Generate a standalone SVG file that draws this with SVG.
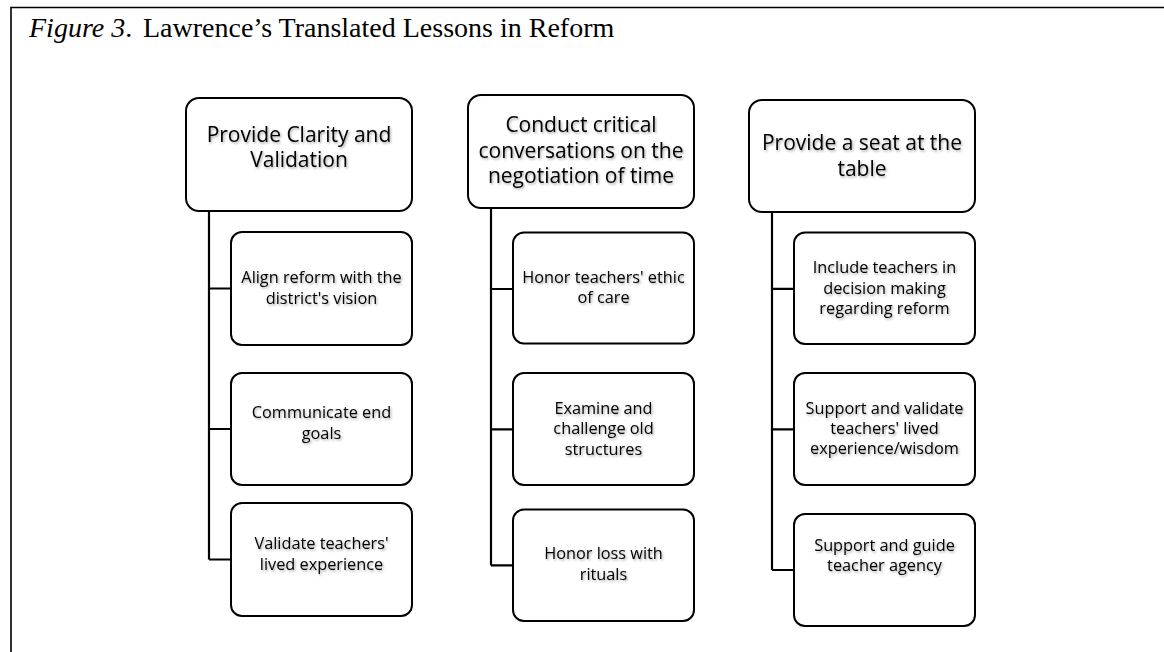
<svg xmlns="http://www.w3.org/2000/svg" width="1164" height="652" viewBox="0 0 1164 652">
<defs>
<filter id="sh" x="-10%" y="-30%" width="120%" height="160%">
<feDropShadow dx="1.2" dy="1.5" stdDeviation="0.9" flood-color="#000" flood-opacity="0.35"/>
</filter>
<style>
.frame{fill:none;stroke:#000;stroke-width:1.6}
.title{font-family:"Liberation Serif","Times New Roman",serif;font-size:28px;fill:#000}
.box{fill:#fff;stroke:#000;stroke-width:2}
.conn{fill:none;stroke:#000;stroke-width:2.2}
.h{font-family:"Open Sans","Noto Sans",sans-serif;font-size:21px;fill:#000;text-anchor:middle;filter:url(#sh)}
.c{font-family:"Open Sans","Noto Sans",sans-serif;font-size:16.3px;fill:#000;text-anchor:middle;filter:url(#sh)}
</style>
</defs>
<rect width="1164" height="652" fill="#fff"/>
<path class="frame" d="M11,660 V7.5 H1170"/>
<text class="title" y="37"><tspan x="29" font-style="italic">Figure 3</tspan><tspan>.</tspan><tspan x="143">Lawrence’s Translated Lessons in Reform</tspan></text>

<g id="connectors">
<path class="conn" d="M209,211 V559.5 M209,288.5 H231 M209,429 H231 M209,559.5 H231"/>
<path class="conn" d="M491,208 V565.4 M491,289 H513 M491,429.3 H513 M491,565.4 H513"/>
<path class="conn" d="M772,212 V570 M772,288.8 H794 M772,429.3 H794 M772,570 H794"/>
</g>

<g id="h1"><rect class="box" x="186" y="98" width="226" height="113" rx="13"/>
<text class="h"><tspan x="299" y="141.5">Provide Clarity and</tspan><tspan x="299" y="167">Validation</tspan></text></g>
<g id="h2"><rect class="box" x="468" y="95" width="226" height="113" rx="13"/>
<text class="h"><tspan x="581" y="132">Conduct critical</tspan><tspan x="581" y="157.5">conversations on the</tspan><tspan x="581" y="183">negotiation of time</tspan></text></g>
<g id="h3"><rect class="box" x="749" y="100" width="226" height="112" rx="13"/>
<text class="h"><tspan x="862" y="150">Provide a seat at the</tspan><tspan x="862" y="175.6">table</tspan></text></g>

<g id="c11"><rect class="box" x="231" y="232" width="181" height="113" rx="11"/>
<text class="c"><tspan x="321.5" y="283">Align reform with the</tspan><tspan x="321.5" y="304">district's vision</tspan></text></g>
<g id="c12"><rect class="box" x="231" y="373" width="181" height="112" rx="11"/>
<text class="c"><tspan x="321.5" y="418.3">Communicate end</tspan><tspan x="321.5" y="439.3">goals</tspan></text></g>
<g id="c13"><rect class="box" x="231" y="503" width="181" height="113" rx="11"/>
<text class="c"><tspan x="321.5" y="549">Validate teachers'</tspan><tspan x="321.5" y="570">lived experience</tspan></text></g>

<g id="c21"><rect class="box" x="513" y="232.5" width="181" height="111" rx="11"/>
<text class="c"><tspan x="603.5" y="283.3">Honor teachers' ethic</tspan><tspan x="603.5" y="303.4">of care</tspan></text></g>
<g id="c22"><rect class="box" x="513" y="373" width="181" height="112" rx="11"/>
<text class="c"><tspan x="603.5" y="414">Examine and</tspan><tspan x="603.5" y="434">challenge old</tspan><tspan x="603.5" y="454.5">structures</tspan></text></g>
<g id="c23"><rect class="box" x="513" y="509.6" width="181" height="111.4" rx="11"/>
<text class="c"><tspan x="603.5" y="559">Honor loss with</tspan><tspan x="603.5" y="580">rituals</tspan></text></g>

<g id="c31"><rect class="box" x="794" y="232.5" width="181" height="111.5" rx="11"/>
<text class="c"><tspan x="884.5" y="273.4">Include teachers in</tspan><tspan x="884.5" y="293.5">decision making</tspan><tspan x="884.5" y="313.6">regarding reform</tspan></text></g>
<g id="c32"><rect class="box" x="794" y="373" width="181" height="112" rx="11"/>
<text class="c"><tspan x="884.5" y="414">Support and validate</tspan><tspan x="884.5" y="434">teachers' lived</tspan><tspan x="884.5" y="454">experience/wisdom</tspan></text></g>
<g id="c33"><rect class="box" x="794" y="514" width="181" height="112" rx="11"/>
<text class="c"><tspan x="884.5" y="550.8">Support and guide</tspan><tspan x="884.5" y="570.9">teacher agency</tspan></text></g>
</svg>
